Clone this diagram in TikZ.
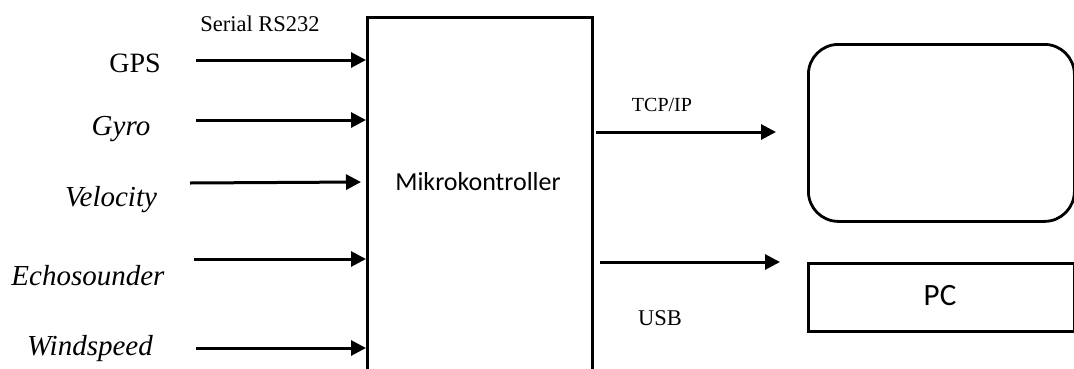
\documentclass[tikz,border=0pt]{standalone}
\usepackage{fontspec}
\setmainfont{Liberation Serif}
\newfontfamily\calibrifont{Carlito}
\usetikzlibrary{arrows.meta}

\begin{document}
\begin{tikzpicture}[x=1pt, y=-1pt,
        link/.style={line width=3pt, -{Triangle[length=15pt,width=15pt]}},
        inlabel/.style={anchor=base, font=\fontsize{29}{31}\selectfont\itshape},
        buslabel/.style={anchor=base, font=\fontsize{22.5}{24}\selectfont}]
        \useasboundingbox (0,0) rectangle (1074,368);

        % Define boxes
        \node[draw, line width=2.8pt, minimum width=225pt, minimum height=370pt,
              anchor=north west, inner sep=0pt] (mcu) at (366,16) {};
        \node[draw, line width=2.8pt, rounded corners=30pt, minimum width=266pt,
              minimum height=177pt, anchor=north west] (display) at (807,43) {};
        \node[draw, line width=2.8pt, minimum width=266pt, minimum height=68pt,
              anchor=north west] (pc) at (807,262) {};

        % Box texts
        \node[anchor=base, font=\calibrifont\fontsize{26}{28}\selectfont] (mcutext) at (478,190) {Mikrokontroller};
        \node[anchor=base, font=\calibrifont\fontsize{31}{33}\selectfont] (pctext) at (940,305) {PC};

        % Sensor labels
        \node[anchor=base, font=\fontsize{28}{30}\selectfont] (gps) at (135,72) {GPS};
        \node[inlabel] (gyro) at (121,135) {Gyro};
        \node[inlabel] (velocity) at (111,206) {Velocity};
        \node[inlabel] (echo) at (88,285) {Echosounder};
        \node[inlabel] (wind) at (90,355) {Windspeed};

        % Bus labels
        \node[buslabel] (serial) at (260,31) {Serial RS232};
        \node[buslabel, font=\fontsize{20}{22}\selectfont] (tcpip) at (662,111) {TCP/IP};
        \node[buslabel] (usb) at (660,325) {USB};

        % Arrow start and end points
        \coordinate (gps_s) at (196,60);
        \coordinate (gyro_s) at (196,120);
        \coordinate (vel_s) at (190,183);
        \coordinate (vel_e) at (361,182);
        \coordinate (echo_s) at (194,259);
        \coordinate (wind_s) at (196,348);
        \coordinate (tcp_s) at (596,132);
        \coordinate (tcp_e) at (776,132);
        \coordinate (usb_s) at (600,262);
        \coordinate (usb_e) at (780,262);

        % Draw arrows
        \draw[link] (gps_s) -- (gps_s -| mcu.west);
        \draw[link] (gyro_s) -- (gyro_s -| mcu.west);
        \draw[link] (vel_s) -- (vel_e);
        \draw[link] (echo_s) -- (echo_s -| mcu.west);
        \draw[link] (wind_s) -- (wind_s -| mcu.west);
        \draw[link] (tcp_s) -- (tcp_e);
        \draw[link] (usb_s) -- (usb_e);

\end{tikzpicture}
\end{document}
